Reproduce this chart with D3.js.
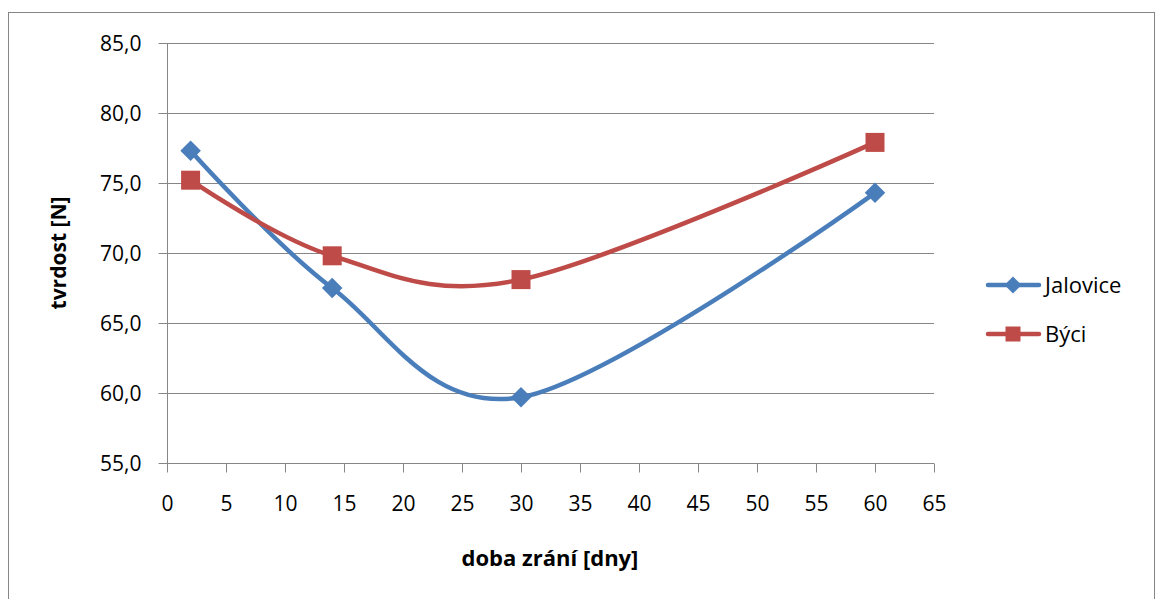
<!DOCTYPE html>
<html>
<head>
<meta charset="utf-8">
<script src="https://cdn.jsdelivr.net/npm/d3@7"></script>
<style>
  body { margin: 0; background: #fff; }
  text { font-family: "Open Sans", "DejaVu Sans", sans-serif; fill: #000; }
</style>
</head>
<body>
<svg id="chart" width="1156" height="599"></svg>
<script>
// chart data
var days = [2, 14, 30, 60];
var jalovice = [77.3, 67.5, 59.7, 74.3];
var byci = [75.2, 69.8, 68.1, 77.9];
var seriesNames = ["Jalovice", "Býci"];
var xTicks = [0, 5, 10, 15, 20, 25, 30, 35, 40, 45, 50, 55, 60, 65];
var yTicks = [55, 60, 65, 70, 75, 80, 85];

var svg = d3.select("#chart");

// outer chart border
svg.append("rect")
  .attr("x", 8.5).attr("y", 12.5)
  .attr("width", 1146).attr("height", 600)
  .attr("fill", "#fff")
  .attr("stroke", "#868686");

var x = d3.scaleLinear().domain([0, 65]).range([167, 934]);
var y = d3.scaleLinear().domain([55, 85]).range([463, 43]);

var fmt = function(d){ return d3.format(".1f")(d).replace(".", ","); };

// horizontal gridlines
svg.append("g").selectAll("line")
  .data(yTicks.slice(1))
  .enter().append("line")
    .attr("x1", x(0)).attr("x2", x(65))
    .attr("y1", function(d){ return Math.round(y(d)) + 0.5; })
    .attr("y2", function(d){ return Math.round(y(d)) + 0.5; })
    .attr("stroke", "#868686").attr("stroke-width", 1);

// y axis
var yAxis = svg.append("g")
  .attr("transform", "translate(" + (x(0) + 0.5) + ",0)")
  .call(d3.axisLeft(y).tickValues(yTicks).tickFormat(fmt).tickSize(9).tickPadding(17));
yAxis.select(".domain").attr("stroke", "#868686").attr("d", "M0," + y(55) + "V" + y(85));
yAxis.selectAll(".tick line").attr("stroke", "#868686");
yAxis.selectAll(".tick text").style("font-size", "21px").attr("dy", "0.35em");

// x axis
var xAxis = svg.append("g")
  .attr("transform", "translate(0," + (y(55) + 0.5) + ")")
  .call(d3.axisBottom(x).tickValues(xTicks).tickSize(9).tickPadding(24));
xAxis.select(".domain").attr("stroke", "#868686").attr("d", "M" + x(0) + ",0H" + x(65));
xAxis.selectAll(".tick line").attr("stroke", "#868686");
xAxis.selectAll(".tick text").style("font-size", "21px");

// axis titles
svg.append("text")
  .attr("transform", "translate(66," + y(70) + ") rotate(-90)")
  .attr("text-anchor", "middle")
  .style("font-size", "21px").style("font-weight", "bold")
  .text("tvrdost [N]");
svg.append("text")
  .attr("x", 550).attr("y", 566)
  .attr("text-anchor", "middle")
  .style("font-size", "22px").style("font-weight", "bold")
  .text("doba zrání [dny]");

var colors = ["#4A7EBB", "#BE4B48"];
var series = [jalovice, byci];

var line = d3.line()
  .x(function(d){ return x(d[0]); })
  .y(function(d){ return y(d[1]); })
  .curve(d3.curveCardinal.tension(0));

function marker(g, i, size) {
  if (i === 0) {
    g.append("path")
      .attr("d", d3.symbol().type(d3.symbolSquare).size(size * size)())
      .attr("transform", "rotate(45)")
      .attr("fill", colors[i]);
  } else {
    g.append("path")
      .attr("d", d3.symbol().type(d3.symbolSquare).size(size * size)())
      .attr("fill", colors[i]);
  }
}

series.forEach(function(vals, i){
  var pts = days.map(function(d, j){ return [d, vals[j]]; });
  svg.append("path")
    .datum(pts)
    .attr("d", line)
    .attr("fill", "none")
    .attr("stroke", colors[i])
    .attr("stroke-width", 4.5)
    .attr("stroke-linecap", "round");
  svg.append("g").selectAll("g")
    .data(pts)
    .enter().append("g")
      .attr("transform", function(d){ return "translate(" + x(d[0]) + "," + y(d[1]) + ")"; })
      .each(function(){ marker(d3.select(this), i, i === 0 ? 14.5 : 19); });
});

// legend
var legend = svg.append("g");
seriesNames.forEach(function(name, i){
  var ly = 285 + i * 49;
  legend.append("line")
    .attr("x1", 988).attr("x2", 1039)
    .attr("y1", ly).attr("y2", ly)
    .attr("stroke", colors[i]).attr("stroke-width", 4.5)
    .attr("stroke-linecap", "round");
  var g = legend.append("g").attr("transform", "translate(1013," + ly + ")");
  marker(g, i, i === 0 ? 12 : 15);
  legend.append("text")
    .attr("x", 1045).attr("y", ly)
    .attr("dy", "0.35em")
    .style("font-size", "22px")
    .text(name);
});
</script>
</body>
</html>
